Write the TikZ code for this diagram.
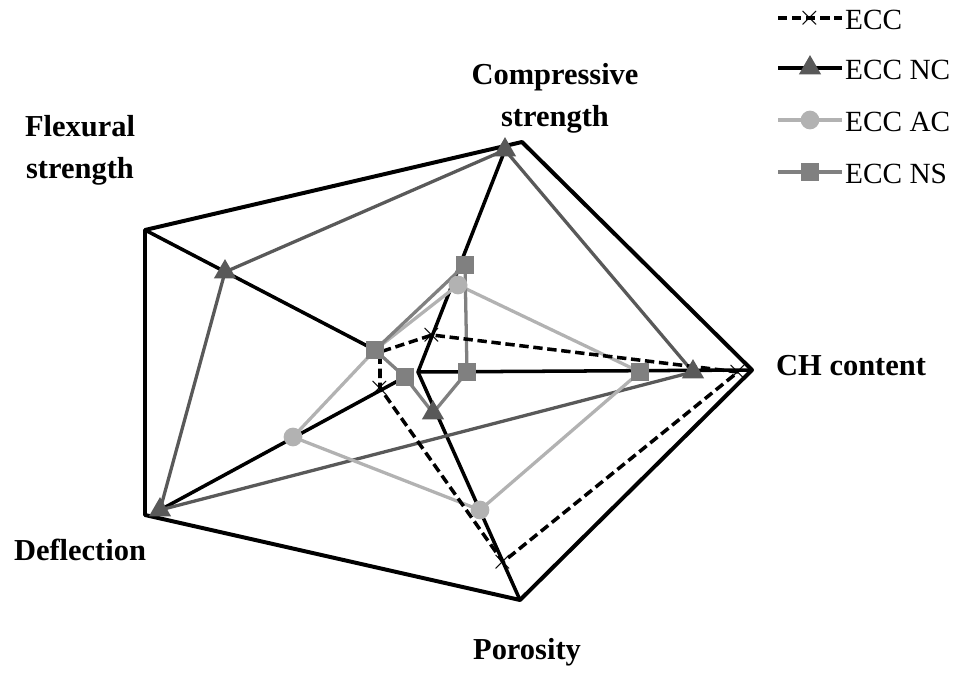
\documentclass[tikz,border=0pt]{standalone}
\usepackage{fontspec}
\setmainfont{Liberation Serif}
\usetikzlibrary{shapes.geometric,calc}
\begin{document}
\begin{tikzpicture}
  [x=0.03cm,y=-0.03cm,line join=round,
   every node/.style={inner sep=0pt},
   lab/.style={font=\fontsize{26}{30}\selectfont\bfseries,align=center},
   leg/.style={font=\fontsize{25}{29}\selectfont,anchor=west},
   axisline/.style={black,line width=3.4pt},
   eccline/.style={black,line width=3pt,dashed,dash pattern=on 8pt off 4pt},
   ncline/.style={black!65,line width=2.8pt},
   acline/.style={black!30,line width=2.8pt},
   nsline/.style={black!50,line width=2.8pt},
   tri/.style={regular polygon,regular polygon sides=3,fill=black!65,minimum size=22pt},
   circ/.style={circle,fill=black!30,minimum size=16pt},
   sq/.style={rectangle,fill=black!50,minimum size=16pt},
   xm/.style={font=\fontsize{28}{28}\selectfont\bfseries}]
    \useasboundingbox (0,0) rectangle (975,675);

    % outer frame
    \coordinate (top) at (522,142);
    \coordinate (rgt) at (752,370);
    \coordinate (bot) at (520,600);
    \coordinate (bl)  at (145,515);
    \coordinate (tl)  at (145,230);
    \coordinate (ctr) at (418,372);
    \draw[axisline] (top) -- (rgt) -- (bot) -- (bl) -- (tl) -- cycle;

    % data points
    \coordinate (e1) at (738,372); \coordinate (e2) at (432,335);
    \coordinate (e3) at (380,352); \coordinate (e4) at (380,388);
    \coordinate (e5) at (503,562);
    \coordinate (n1) at (693,372); \coordinate (n2) at (505,150);
    \coordinate (n3) at (225,272); \coordinate (n4) at (160,510);
    \coordinate (n5) at (433,413);
    \coordinate (a1) at (640,372); \coordinate (a2) at (458,285);
    \coordinate (a3) at (375,350); \coordinate (a4) at (293,437);
    \coordinate (a5) at (480,510);
    \coordinate (s1) at (467,372); \coordinate (s2) at (465,265);
    \coordinate (s3) at (375,350); \coordinate (s4) at (405,377);
    \coordinate (s5) at (433,413);

    \draw[axisline,line width=3pt] (tl) -- (a3);
    \draw[axisline,line width=3pt] (n2) -- (ctr) -- (rgt);
    \draw[axisline,line width=3pt] (ctr) -- (bot);
    \draw[axisline,line width=3pt] (n4) -- (s4);

    \draw[ncline] (n1) -- (n2) -- (n3) -- (n4) -- (n1);
    \draw[acline] (a1) -- (a2) -- (a3) -- (a4) -- (a5) -- cycle;
    \draw[nsline] (s1) -- (s2) -- (s3) -- (s4) -- (s5) -- (s1);
    \draw[eccline] (e1) -- (e2) -- (e3) -- (e4) -- (e5) -- cycle;

    \foreach \p in {n1,n2,n3,n4,n5}
      \node[tri] at (\p) {};
    \foreach \p in {a2,a4,a5}
      \node[circ] at (\p) {};
    \foreach \p in {a1,s1,s2,s3,s4}
      \node[sq] at (\p) {};
    \foreach \p in {e1,e2,e4,e5}
      \node[xm] at (\p) {$\times$};

    % axis labels
    \node (lcs)  [lab] at (555,98)  {Compressive\\[6pt]strength};
    \node (lfs)  [lab] at (80,150)  {Flexural\\[6pt]strength};
    \node (lch)  [lab,anchor=west] at (776,366) {CH content};
    \node (ldef) [lab] at (80,550)  {Deflection};
    \node (lpor) [lab] at (527,652) {Porosity};

    % legend
    \coordinate (g1a) at (778,18);  \coordinate (g1b) at (842,18);
    \coordinate (g2a) at (778,68);  \coordinate (g2b) at (842,68);
    \coordinate (g3a) at (778,120); \coordinate (g3b) at (842,120);
    \coordinate (g4a) at (778,172); \coordinate (g4b) at (842,172);
    \draw[eccline] (g1a) -- (g1b);
    \node[xm] at ($(g1a)!0.5!(g1b)$) {$\times$};
    \draw[black,line width=3pt] (g2a) -- (g2b);
    \node[tri] at ($(g2a)!0.5!(g2b)$) {};
    \draw[acline] (g3a) -- (g3b);
    \node[circ] at ($(g3a)!0.5!(g3b)$) {};
    \draw[nsline] (g4a) -- (g4b);
    \node[sq] at ($(g4a)!0.5!(g4b)$) {};
    \node (l1) [leg] at (845,20)  {ECC};
    \node (l2) [leg] at (845,70)  {ECC NC};
    \node (l3) [leg] at (845,122) {ECC AC};
    \node (l4) [leg] at (845,174) {ECC NS};
  \end{tikzpicture}
\end{document}
